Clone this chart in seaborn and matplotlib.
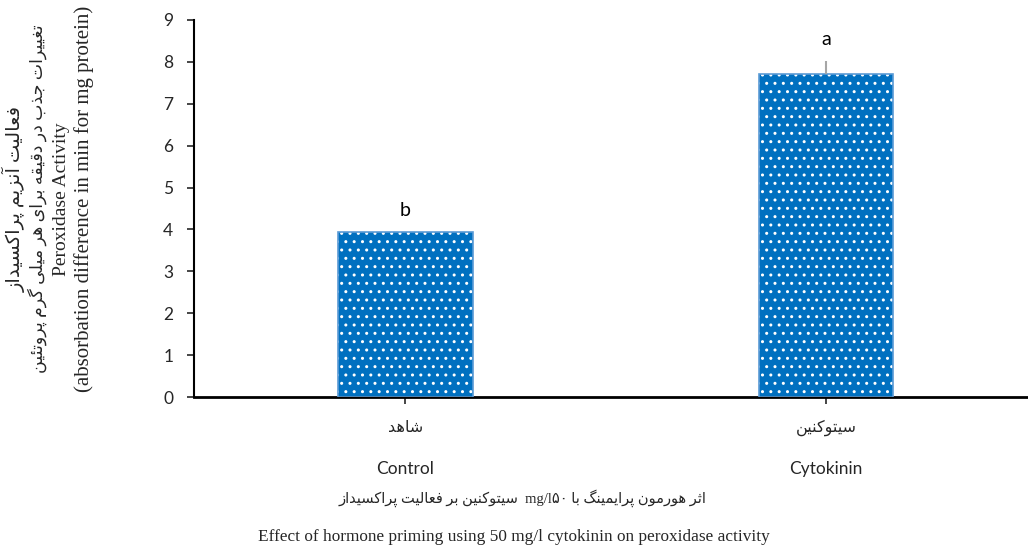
"""
Peroxidase activity bar chart: control vs cytokinin priming.
"""

import unicodedata
import pandas as pd
import matplotlib
matplotlib.use("Agg")
import matplotlib.pyplot as plt
import seaborn as sns

# Data
groups = ['Control', 'Cytokinin']
groups_fa = ['شاهد', 'سیتوکنین']
activity = [3.95, 7.72]
errors = [0.0, 0.3]
letters = ['b', 'a']
y_ticks = list(range(0, 10))

ylabel_lines = [
    'فعالیت آنزیم پراکسیداز',
    'تغییرات جذب در دقیقه برای هر میلی گرم پروتئین',
    'Peroxidase Activity',
    '(absorbation difference in min for mg protein)',
]
caption_fa = ('اثر هورمون پرایمینگ با', '۵۰', 'mg/l', 'سیتوکنین بر فعالیت پراکسیداز')
caption_en = 'Effect of hormone priming using 50 mg/l cytokinin on peroxidase activity'

RIGHT_ONLY = set('اآأإدذرزژوؤة')


def joins(c):
    return bool(c) and unicodedata.name(c, '').startswith('ARABIC LETTER')


def shape(text):
    """Pick contextual Arabic presentation forms (no lam-alef needed here)."""
    out = []
    for i, c in enumerate(text):
        if not joins(c):
            out.append(c)
            continue
        prev = text[i - 1] if i > 0 else ''
        nxt = text[i + 1] if i < len(text) - 1 else ''
        jp = joins(prev) and prev not in RIGHT_ONLY
        jn = joins(nxt) and c not in RIGHT_ONLY
        form = {(True, True): 'MEDIAL', (True, False): 'FINAL',
                (False, True): 'INITIAL', (False, False): 'ISOLATED'}[(jp, jn)]
        try:
            out.append(unicodedata.lookup(unicodedata.name(c) + ' ' + form + ' FORM'))
        except KeyError:
            out.append(c)
    return ''.join(out)


def rtl(text):
    return shape(text)[::-1]


sns.set_style("white")
plt.rcParams['font.family'] = ['Lato', 'DejaVu Sans']
SERIF = ['Liberation Serif', 'DejaVu Sans']
SANS = ['Lato', 'DejaVu Sans']

df = pd.DataFrame({'group': groups, 'activity': activity})

fig = plt.figure(figsize=(10.28, 5.47), dpi=100)
ax = fig.add_axes([194 / 1028, 1 - 397 / 547, 1 - 194 / 1028, 377 / 547])

# hatched blue fill with white dots
plt.rcParams['hatch.linewidth'] = 1.0
sns.barplot(data=df, x='group', y='activity', color='#0070C0', saturation=1,
            width=0.32, errorbar=None, ax=ax, zorder=2)
for bar in ax.patches:
    bar.set_hatch('..')
    bar.set_edgecolor('white')
    bar.set_linewidth(0)
# thin lighter outline
sns.barplot(data=df, x='group', y='activity', fill=False, width=0.32,
            errorbar=None, ax=ax, edgecolor='#5B9BD5', linewidth=1.2, zorder=3)

ax.errorbar(range(len(groups)), activity, yerr=[[0] * len(errors), errors],
            fmt='none', ecolor='#A6A6A6', elinewidth=1.5, capsize=0, zorder=4)

for i, (val, err, lab) in enumerate(zip(activity, errors, letters)):
    ax.text(i, val + err + 0.3, lab, ha='center', va='bottom', fontsize=14,
            family=SANS, color='black')

ax.set_xlim(-0.502, 1.48)
ax.set_ylim(0, 9)
ax.set_yticks(y_ticks)
ax.set_xlabel('')
ax.set_ylabel('')
sns.despine(ax=ax)
ax.spines['left'].set_linewidth(1.5)
ax.spines['bottom'].set_linewidth(2)
ax.spines['left'].set_color('black')
ax.spines['bottom'].set_color('black')
ax.tick_params(axis='y', direction='out', length=5, width=1.2, pad=10,
               labelsize=12.5, left=True)
ax.tick_params(axis='x', direction='out', length=5, width=1.2, pad=41,
               labelsize=12.5, bottom=True)

# Persian category names above the English tick labels
for i, name in enumerate(groups_fa):
    ax.text(i, -31 / 377, rtl(name), transform=ax.get_xaxis_transform(),
            ha='center', va='center', fontsize=11.5, family=SERIF)

# four-line y label
for x_px, size, line in zip([14, 37, 61, 84], [14, 12.5, 14, 15], ylabel_lines):
    is_fa = joins(line[0])
    fig.text(x_px / 1028, 1 - 199 / 547, rtl(line) if is_fa else line,
             rotation=90, ha='center', va='center',
             fontsize=size, family=SERIF)

# captions
fa_vis = (rtl(caption_fa[3]) + '  ' + caption_fa[2] + caption_fa[1] + ' '
          + rtl(caption_fa[0]))
fig.text(522 / 1028, 1 - 498 / 547, fa_vis, ha='center', va='center',
         fontsize=10.5, family=SERIF)
fig.text(0.5, 1 - 537 / 547, caption_en, ha='center', va='center',
         fontsize=12.4, family=SERIF)

fig.savefig('out.png', dpi=100)
